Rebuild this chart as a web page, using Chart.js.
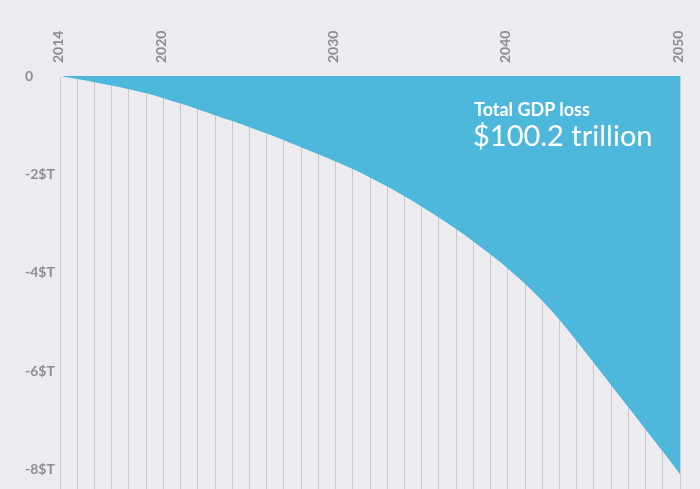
<!DOCTYPE html>
<html>
<head>
<meta charset="utf-8">
<script src="https://cdn.jsdelivr.net/npm/chart.js@4"></script>
<style>
  body { margin: 0; background: #ececf0; }
  #wrap { position: relative; width: 700px; height: 489px; overflow: hidden; }
  .note { position: absolute; color: #fff; font-family: Lato, sans-serif; white-space: nowrap; line-height: 1; }
</style>
</head>
<body>
<div id="wrap">
  <canvas id="lossChart" width="700" height="489"></canvas>
  <div class="note" style="left:474px;top:100px;font-size:18px;font-weight:bold">Total GDP loss</div>
  <div class="note" style="left:473px;top:120px;font-size:29px">$100.2 trillion</div>
</div>
<script>
const years = [];
for (let y = 2014; y <= 2050; y++) years.push(y);

// yearly GDP loss, trillions of dollars
const gdpLoss = [
  0, -0.06, -0.125, -0.195, -0.27, -0.35, -0.45, -0.56, -0.675, -0.795,
  -0.915, -1.04, -1.17, -1.305, -1.445, -1.59, -1.735, -1.89, -2.06, -2.245,
  -2.445, -2.655, -2.875, -3.11, -3.36, -3.625, -3.91, -4.22, -4.565, -4.95,
  -5.385, -5.83, -6.28, -6.73, -7.18, -7.63, -8.09
];

const xTickLabels = [2014, 2020, 2030, 2040, 2050];
const yTickValues = [0, -2, -4, -6, -8];
const yTickLabels = ["0", "-2$T", "-4$T", "-6$T", "-8$T"];

const labelColor = "#8d8d91";
const labelFont = { family: "Lato, sans-serif", size: 14, weight: "bold" };

new Chart(document.getElementById("lossChart"), {
  type: "line",
  data: {
    labels: years,
    datasets: [{
      data: gdpLoss,
      fill: "origin",
      backgroundColor: "#4db7dc",
      borderWidth: 0,
      pointRadius: 0,
      cubicInterpolationMode: "monotone",
    }],
  },
  options: {
    responsive: false,
    animation: false,
    layout: { padding: { left: 25, right: 20, top: 0, bottom: 0 } },
    plugins: { legend: { display: false }, tooltip: { enabled: false } },
    scales: {
      x: {
        position: "top",
        z: 1,
        border: { display: false },
        grid: { color: "rgba(0,0,0,0.15)", drawTicks: false },
        ticks: {
          autoSkip: false,
          minRotation: 90,
          maxRotation: 90,
          padding: 13,
          labelOffset: 15,
          color: labelColor,
          font: labelFont,
          callback: (v, i) => (xTickLabels.includes(years[i]) ? String(years[i]) : ""),
        },
        afterFit: (s) => { s.height = 76; s.paddingLeft = 0; s.paddingRight = 0; },
      },
      y: {
        min: -8.39,
        max: 0,
        border: { display: false },
        grid: {
          drawTicks: false,
          color: (c) => (c.tick && c.tick.value === 0 ? "rgba(255,255,255,0.9)" : "transparent"),
        },
        afterBuildTicks: (s) => { s.ticks = yTickValues.map((v) => ({ value: v })); },
        ticks: {
          crossAlign: "far",
          color: labelColor,
          font: labelFont,
          callback: (v) => yTickLabels[yTickValues.indexOf(v)],
        },
        afterFit: (s) => { s.width = 35; s.paddingTop = 0; s.paddingBottom = 0; },
      },
    },
  },
});
</script>
</body>
</html>
